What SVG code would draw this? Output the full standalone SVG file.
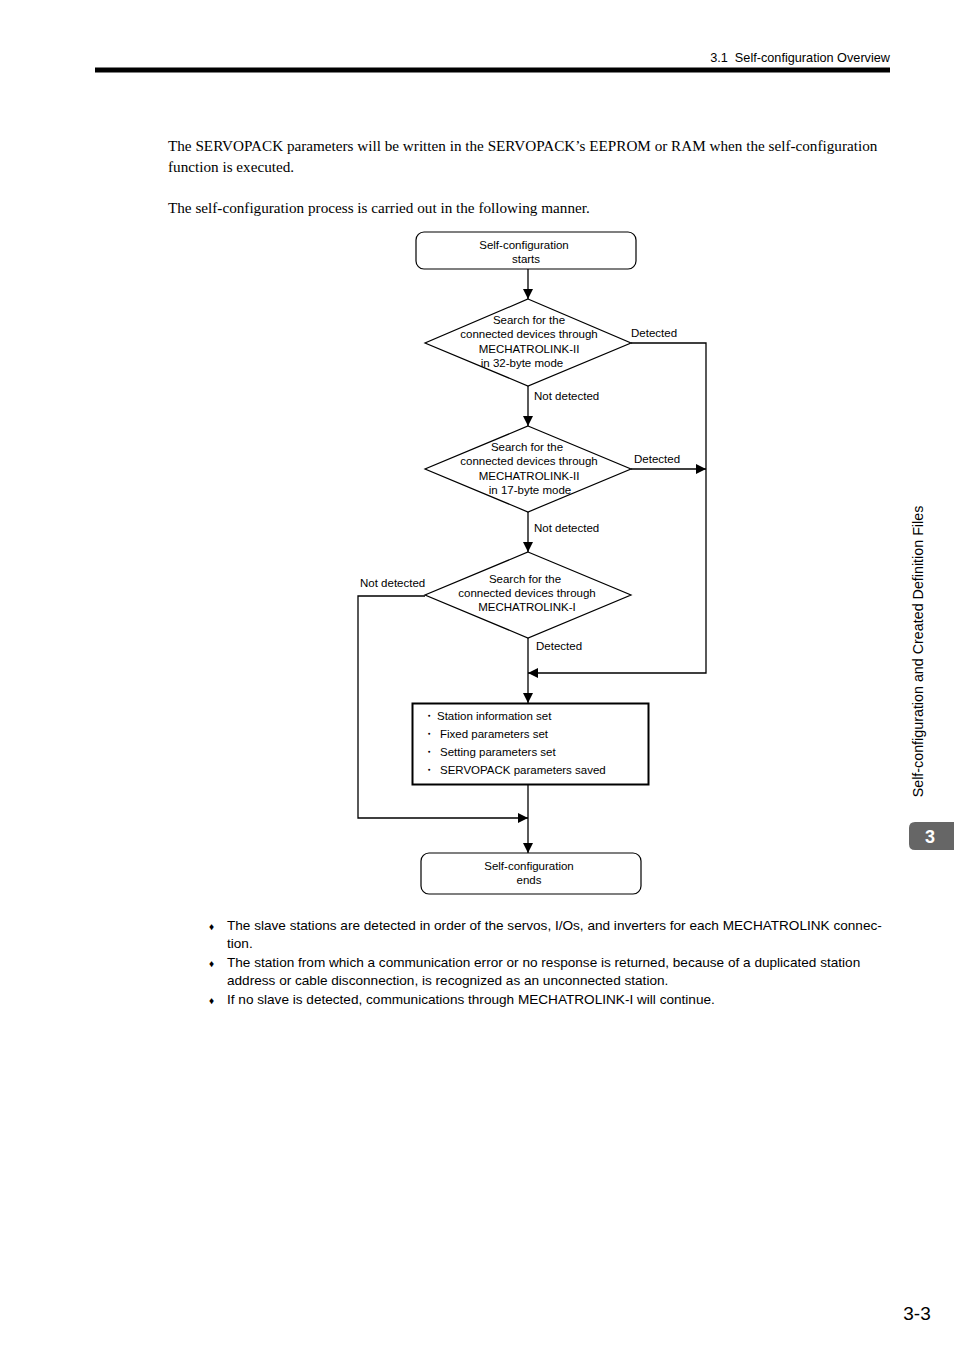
<svg xmlns="http://www.w3.org/2000/svg" width="954" height="1350" viewBox="0 0 954 1350">
<defs>
<marker id="ah" viewBox="0 0 10 10" refX="10" refY="5" markerWidth="10" markerHeight="10" markerUnits="userSpaceOnUse" orient="auto">
<path d="M0,0 L10,5 L0,10 Z" fill="#000"/>
</marker>
<style>
.t{font-family:"Liberation Sans",Arial,sans-serif;font-size:11.5px;fill:#000}
.c{text-anchor:middle}
.ser{font-family:"Liberation Serif","Times New Roman",serif;font-size:15.2px;fill:#000}
.b{font-family:"Liberation Sans",Arial,sans-serif;font-size:13.6px;fill:#000}
.shape{fill:#fff;stroke:#000;stroke-width:1.2}
.ln{fill:none;stroke:#000;stroke-width:1.3}
</style>
</defs>
<rect width="954" height="1350" fill="#fff"/>
<g id="header">
<text x="890" y="62" class="t" text-anchor="end" style="font-size:12.7px" xml:space="preserve">3.1  Self-configuration Overview</text>
<rect x="95" y="67.5" width="795" height="5" fill="#000"/>
</g>
<g id="intro">
<text x="168" y="151" class="ser">The SERVOPACK parameters will be written in the SERVOPACK’s EEPROM or RAM when the self-configuration</text>
<text x="168" y="172" class="ser">function is executed.</text>
<text x="168" y="213" class="ser">The self-configuration process is carried out in the following manner.</text>
</g>
<g id="connectors">
<line x1="528" y1="269" x2="528" y2="299" class="ln" marker-end="url(#ah)"/>
<line x1="528" y1="386" x2="528" y2="426" class="ln" marker-end="url(#ah)"/>
<line x1="528" y1="512" x2="528" y2="552" class="ln" marker-end="url(#ah)"/>
<line x1="528" y1="638" x2="528" y2="703" class="ln" marker-end="url(#ah)"/>
<line x1="528" y1="784" x2="528" y2="853" class="ln" marker-end="url(#ah)"/>
<polyline points="631,343 706,343 706,673 528,673" class="ln" marker-end="url(#ah)"/>
<line x1="631" y1="469" x2="706" y2="469" class="ln" marker-end="url(#ah)"/>
<polyline points="425,596 358,596 358,818 528,818" class="ln" marker-end="url(#ah)"/>
<text x="631" y="337" class="t">Detected</text>
<text x="534" y="400" class="t">Not detected</text>
<text x="634" y="463" class="t">Detected</text>
<text x="534" y="532" class="t">Not detected</text>
<text x="360" y="587" class="t">Not detected</text>
<text x="536" y="650" class="t">Detected</text>
</g>
<g id="start">
<rect x="416" y="232" width="220" height="37" rx="8" class="shape"/>
<text x="524" y="249" class="t c">Self-configuration</text>
<text x="526" y="263" class="t c">starts</text>
</g>
<g id="search-ml2-32">
<polygon points="528,299 631,343 528,386 425,343" class="shape"/>
<text x="529" y="324" class="t c">Search for the</text>
<text x="529" y="338" class="t c">connected devices through</text>
<text x="529" y="353" class="t c">MECHATROLINK-II</text>
<text x="522" y="367" class="t c">in 32-byte mode</text>
</g>
<g id="search-ml2-17">
<polygon points="528,426 631,469 528,512 425,469" class="shape"/>
<text x="527" y="451" class="t c">Search for the</text>
<text x="529" y="465" class="t c">connected devices through</text>
<text x="529" y="480" class="t c">MECHATROLINK-II</text>
<text x="530" y="494" class="t c">in 17-byte mode</text>
</g>
<g id="search-ml1">
<polygon points="528,552 631,595 528,638 425,595" class="shape"/>
<text x="525" y="583" class="t c">Search for the</text>
<text x="527" y="597" class="t c">connected devices through</text>
<text x="527" y="611" class="t c">MECHATROLINK-I</text>
</g>
<g id="settings">
<rect x="412.5" y="703.5" width="236" height="81" fill="#fff" stroke="#000" stroke-width="2"/>
<text x="423" y="720" class="t">・</text><text x="437" y="720" class="t">Station information set</text>
<text x="423" y="738" class="t">・</text><text x="440" y="738" class="t">Fixed parameters set</text>
<text x="423" y="756" class="t">・</text><text x="440" y="756" class="t">Setting parameters set</text>
<text x="423" y="774" class="t">・</text><text x="440" y="774" class="t">SERVOPACK parameters saved</text>
</g>
<g id="end">
<rect x="421" y="853" width="220" height="41" rx="8" class="shape"/>
<text x="529" y="870" class="t c">Self-configuration</text>
<text x="529" y="884" class="t c">ends</text>
</g>
<g id="notes">
<text x="209" y="930" class="b" style="font-size:10px">♦</text>
<text x="227" y="930" class="b">The slave stations are detected in order of the servos, I/Os, and inverters for each MECHATROLINK connec-</text>
<text x="227" y="948" class="b">tion.</text>
<text x="209" y="967" class="b" style="font-size:10px">♦</text>
<text x="227" y="967" class="b">The station from which a communication error or no response is returned, because of a duplicated station</text>
<text x="227" y="985" class="b">address or cable disconnection, is recognized as an unconnected station.</text>
<text x="209" y="1004" class="b" style="font-size:10px">♦</text>
<text x="227" y="1004" class="b">If no slave is detected, communications through MECHATROLINK-I will continue.</text>
</g>
<g id="side">
<text transform="translate(923,651.5) rotate(-90)" class="b" text-anchor="middle" style="font-size:14.3px">Self-configuration and Created Definition Files</text>
<path d="M954,822 L915,822 Q909,822 909,828 L909,844 Q909,850 915,850 L954,850 Z" fill="#666"/>
<text x="930" y="843" text-anchor="middle" style="font-family:'Liberation Sans',Arial,sans-serif;font-size:18px;font-weight:bold;fill:#fff">3</text>
<text x="917" y="1320" text-anchor="middle" style="font-family:'Liberation Sans',Arial,sans-serif;font-size:19px;fill:#000">3-3</text>
</g>
</svg>
